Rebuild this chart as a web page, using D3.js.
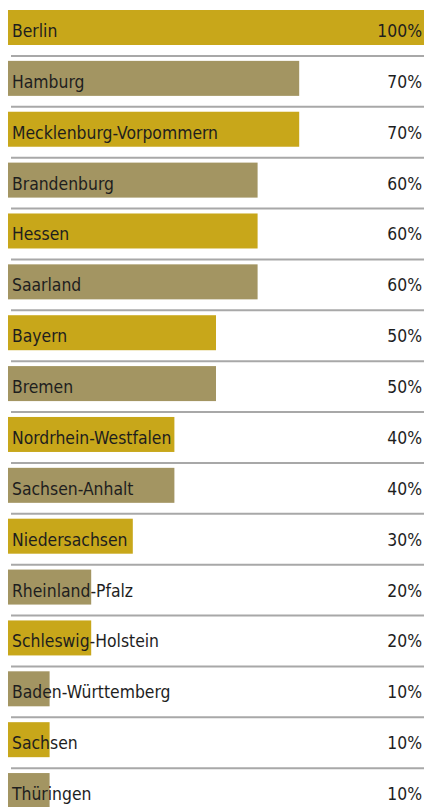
<!DOCTYPE html>
<html>
<head>
<meta charset="utf-8">
<script src="https://cdn.jsdelivr.net/npm/d3@7"></script>
<style>
  html, body { margin: 0; padding: 0; background: #fff; }
  svg text { font-family: "DejaVu Sans Condensed", "Liberation Sans Narrow", sans-serif; fill: #1e1e1e; }
</style>
</head>
<body>
<svg id="chart" width="424" height="807"></svg>
<script>
'use strict';

const states = ['Berlin', 'Hamburg', 'Mecklenburg-Vorpommern', 'Brandenburg', 'Hessen', 'Saarland',
  'Bayern', 'Bremen', 'Nordrhein-Westfalen', 'Sachsen-Anhalt', 'Niedersachsen', 'Rheinland-Pfalz',
  'Schleswig-Holstein', 'Baden-Württemberg', 'Sachsen', 'Thüringen'];
const shares = [100, 70, 70, 60, 60, 60, 50, 50, 40, 40, 30, 20, 20, 10, 10, 10];
const colors = ['#c8a71a', '#a39562'];

const svg = d3.select('#chart');

const xScale = d3.scaleLinear()
  .domain([0, 100])
  .range([8, 424]);

const yScale = d3.scaleBand()
  .domain(states)
  .range([10, 10 + 16 * 50.87]);

const barHeight = 35;
const squeeze = 0.94; // narrow the glyphs a little, the original face is condensed

const rows = svg.selectAll('g.row')
  .data(states)
  .enter().append('g')
  .attr('class', 'row')
  .attr('transform', d => `translate(0, ${yScale(d)})`);

rows.append('rect')
  .attr('x', xScale(0))
  .attr('y', 0)
  .attr('width', (d, i) => xScale(shares[i]) - xScale(0))
  .attr('height', barHeight)
  .attr('fill', (d, i) => colors[i % 2]);

// separators below each row except the last
rows.filter((d, i) => i < states.length - 1)
  .append('line')
  .attr('x1', 11)
  .attr('x2', 424)
  .attr('y1', 46)
  .attr('y2', 46)
  .attr('stroke', '#a8a8a8')
  .attr('stroke-width', 2);

rows.append('text')
  .text(d => d)
  .attr('x', 12 / squeeze)
  .attr('y', 27)
  .attr('transform', `scale(${squeeze},1)`)
  .style('font-size', '18.5px');

rows.append('text')
  .text((d, i) => shares[i] + '%')
  .attr('x', 422 / squeeze)
  .attr('y', 27)
  .attr('text-anchor', 'end')
  .attr('transform', `scale(${squeeze},1)`)
  .style('font-size', '18.5px');
</script>
</body>
</html>
